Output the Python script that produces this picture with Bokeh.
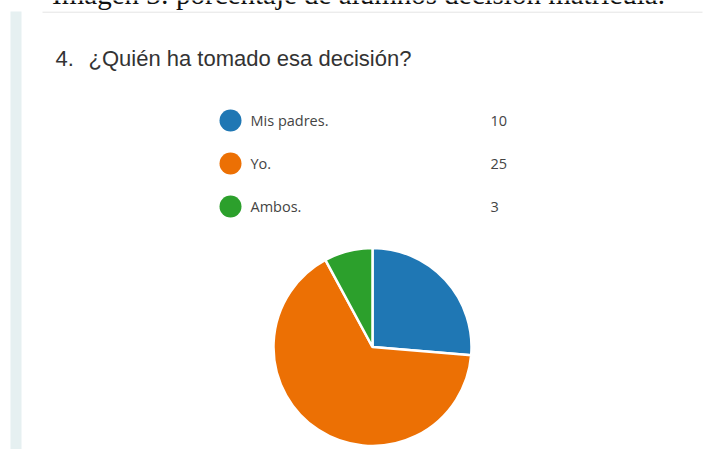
import math
from bokeh.plotting import figure
from bokeh.models import Range1d, ColumnDataSource
from bokeh.core.properties import value
from bokeh.embed import file_html
from bokeh.resources import INLINE

# ---- data ----
categories = ["Mis padres.", "Yo.", "Ambos."]
counts = [10, 25, 3]
colors = ["#1f77b4", "#ec7004", "#2ca02c"]
title_num = "4."
title_text = "¿Quién ha tomado esa decisión?"
caption_text = "Imagen 3: porcentaje de alumnos decisión matrícula."

W, H = 710, 449
p = figure(width=W, height=H, output_backend="svg", toolbar_location=None,
           x_range=Range1d(0, W), y_range=Range1d(-H, 0),
           min_border=0, outline_line_color=None)
p.axis.visible = False
p.grid.visible = False
p.background_fill_color = "white"
p.border_fill_color = "white"

# page decorations
p.quad(left=[10], right=[21], bottom=[-H - 5], top=[-11], fill_color="#e6f0f1", line_color=None)
p.segment(x0=[42], y0=[-11.7], x1=[702], y1=[-11.7], line_color="#e4e4e4", line_width=1)
p.text(x=[358], y=[6.3], text=[caption_text], text_font=value("Liberation Serif"),
       text_font_size="29px", text_color="#111111", text_align="center",
       text_baseline="middle")

# title
p.text(x=[55], y=[-57.5], text=[title_num], text_font=value("Liberation Sans"),
       text_font_size="22px", text_color="#333333", text_baseline="middle")
p.text(x=[88], y=[-57.5], text=[title_text], text_font=value("Liberation Sans"),
       text_font_size="22px", text_color="#333333", text_baseline="middle")

# legend
row0, step = -120, -43
ys = [row0 + i * step for i in range(len(categories))]
leg = ColumnDataSource(dict(y=ys, cat=categories, val=[str(c) for c in counts], col=colors))
p.scatter(x=230, y="y", source=leg, size=22, fill_color="col", line_color=None)
p.text(x=250, y="y", text="cat", source=leg, text_font=value("Open Sans"),
       text_font_size="14.5px", text_color="#444444", text_baseline="middle")
p.text(x=490, y="y", text="val", source=leg, text_font=value("Open Sans"),
       text_font_size="14.5px", text_color="#444444", text_baseline="middle")

# pie
total = sum(counts)
starts, ends = [], []
acc = 0
for c in counts:
    starts.append(math.pi / 2 - 2 * math.pi * acc / total)
    acc += c
    ends.append(math.pi / 2 - 2 * math.pi * acc / total)
pie = ColumnDataSource(dict(s=starts, e=ends, col=colors))
p.wedge(x=372, y=-346.5, radius=99, radius_units="screen", start_angle="s", end_angle="e",
        direction="clock", fill_color="col", line_color="white", line_width=2.5, source=pie)

open("out.html", "w").write(file_html(p, INLINE))
